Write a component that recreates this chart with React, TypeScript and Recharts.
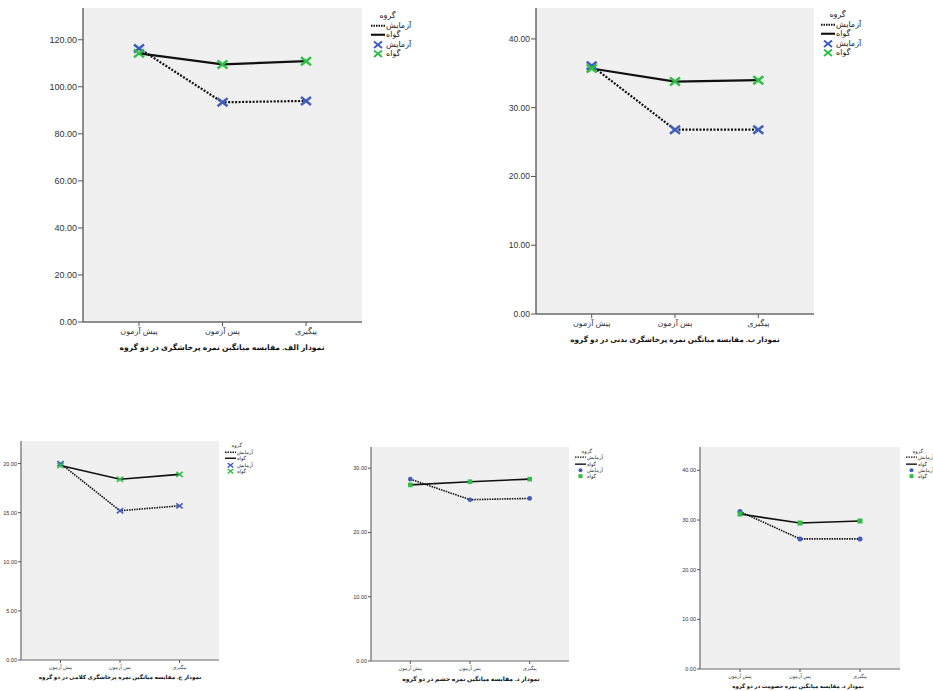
import React from 'react';
import { LineChart, Line, XAxis, YAxis, CartesianGrid } from 'recharts';

const stages = ['پیش آزمون', 'پس آزمون', 'پیگیری'];
const groupTitle = 'گروه';
const groupNames = ['آزمایش', 'گواه'];

// نمودار الف - پرخاشگری کل
const aggExp = [116.3, 93.4, 94.0];
const aggCtl = [114.2, 109.5, 110.9];
const aggTicks = [0, 20, 40, 60, 80, 100, 120];

// نمودار ب - پرخاشگری بدنی
const physExp = [36.1, 26.8, 26.8];
const physCtl = [35.7, 33.8, 34.0];
const physTicks = [0, 10, 20, 30, 40];

// نمودار ج - پرخاشگری کلامی
const verbExp = [20.0, 15.2, 15.7];
const verbCtl = [19.8, 18.4, 18.9];
const verbTicks = [0, 5, 10, 15, 20];

// نمودار د - خشم
const angerExp = [28.3, 25.1, 25.3];
const angerCtl = [27.4, 27.9, 28.3];
const angerTicks = [0, 10, 20, 30];

// نمودار ه - خصومت
const hostExp = [31.7, 26.2, 26.2];
const hostCtl = [31.2, 29.4, 29.8];
const hostTicks = [0, 10, 20, 30, 40];

const BLUE = '#3f5dbf';
const GREEN = '#2fbf45';
const FONT = '"Liberation Sans", "DejaVu Sans", Arial, sans-serif';

const makeData = (exp: number[], ctl: number[]) =>
  stages.map((stage, i) => ({ stage, exp: exp[i], ctl: ctl[i] }));

function Marker({ cx, cy, kind, color, size }: any) {
  if (kind === 'x') {
    const sx = size;
    const sy = size * 0.8;
    return (
      <g>
        <line x1={cx - sx} y1={cy - sy} x2={cx + sx} y2={cy + sy} stroke={color} strokeWidth={size * 0.5} />
        <line x1={cx - sx} y1={cy + sy} x2={cx + sx} y2={cy - sy} stroke={color} strokeWidth={size * 0.5} />
      </g>
    );
  }
  if (kind === 'circle') return <circle cx={cx} cy={cy} r={size} fill={color} />;
  return <rect x={cx - size} y={cy - size} width={size * 2} height={size * 2} fill={color} />;
}

function LegendBox({ x, y, font, row, sym, markerKind, markerSize }: any) {
  const items = [
    { name: groupNames[0], type: 'dotted' },
    { name: groupNames[1], type: 'solid' },
    { name: groupNames[0], type: 'm', color: BLUE, kind: markerKind === 'x' ? 'x' : 'circle' },
    { name: groupNames[1], type: 'm', color: GREEN, kind: markerKind === 'x' ? 'x' : 'square' }
  ];
  return (
    <div style={{ position: 'absolute', left: x, top: y, fontFamily: FONT, fontSize: font, color: '#222', lineHeight: `${row}px` }}>
      <div style={{ paddingLeft: sym * 0.6 }}>{groupTitle}</div>
      {items.map((it, i) => (
        <div key={i} style={{ display: 'flex', alignItems: 'center', height: row }}>
          <svg width={sym} height={row} style={{ marginRight: 1 }}>
            {it.type === 'dotted' && (
              <line x1={0} y1={row / 2} x2={sym} y2={row / 2} stroke="#111" strokeWidth={row / 5} strokeDasharray="1.5 1" />
            )}
            {it.type === 'solid' && <line x1={0} y1={row / 2} x2={sym} y2={row / 2} stroke="#111" strokeWidth={row / 4.5} />}
            {it.type === 'm' && <Marker cx={sym / 2} cy={row / 2} kind={it.kind} color={it.color} size={markerSize} />}
          </svg>
          <span style={{ color: '#222' }}>{it.name}</span>
        </div>
      ))}
    </div>
  );
}

function Panel(p: any) {
  const data = makeData(p.exp, p.ctl);
  const w = p.x1 - p.x0 + 70;
  const h = p.y1 - p.y0 + 40;
  const frame = { stroke: '#6a6a6a', strokeWidth: p.frameWidth };
  const kindExp = p.marker === 'x' ? 'x' : 'circle';
  const kindCtl = p.marker === 'x' ? 'x' : 'square';
  const dotFor = (kind: string, color: string) => (props: any) =>
    <Marker key={`${kind}-${props.index}`} cx={props.cx} cy={props.cy} kind={kind} color={color} size={p.markerSize} />;
  return (
    <>
      <div style={{ position: 'absolute', left: p.x0 - 60, top: p.y0 - 10 }}>
        <LineChart width={w} height={h} data={data} margin={{ top: 10, right: 10, bottom: 0, left: 0 }}>
          <CartesianGrid fill="#f0f0f0" horizontal={false} vertical={false} />
          <XAxis
            dataKey="stage"
            height={30}
            padding={{ left: p.pad, right: p.pad }}
            axisLine={frame}
            tickLine={{ stroke: '#555' }}
            tickSize={p.catTick}
            tickMargin={2}
            interval={0}
            tick={{ fontSize: p.catFont, fill: '#333', fontFamily: FONT }}
          />
          <XAxis xAxisId="top" orientation="top" dataKey="stage" height={0} tick={false} tickLine={false} axisLine={frame} />
          <YAxis
            width={60}
            domain={[0, p.yMax]}
            ticks={p.ticks}
            allowDataOverflow
            axisLine={frame}
            tickLine={{ stroke: '#555' }}
            tickSize={p.yTick}
            tickMargin={1}
            tickFormatter={(v: number) => v.toFixed(2)}
            tick={{ fontSize: p.tickFont, fill: '#333', fontFamily: FONT }}
          />
          <YAxis yAxisId="right" orientation="right" width={0} domain={[0, p.yMax]} tick={false} tickLine={false} axisLine={frame} />
          <Line
            dataKey="exp"
            stroke="#111"
            strokeWidth={p.lineWidth}
            strokeDasharray={p.dash}
            isAnimationActive={false}
            dot={dotFor(kindExp, BLUE)}
            activeDot={false}
          />
          <Line
            dataKey="ctl"
            stroke="#111"
            strokeWidth={p.lineWidth}
            isAnimationActive={false}
            dot={dotFor(kindCtl, GREEN)}
            activeDot={false}
          />
        </LineChart>
      </div>
      <div
        style={{
          position: 'absolute',
          left: p.titleX - 200,
          top: p.titleY - p.titleFont * 0.7,
          width: 400,
          textAlign: 'center',
          fontFamily: FONT,
          fontSize: p.titleFont,
          fontWeight: 'bold',
          color: '#111',
          direction: 'rtl',
          whiteSpace: 'nowrap'
        }}
      >
        {p.title}
      </div>
      <LegendBox x={p.legendX} y={p.legendY} font={p.legendFont} row={p.legendRow} sym={p.legendSym} markerKind={p.marker} markerSize={p.legendMarker} />
    </>
  );
}

export default function App() {
  return (
    <div style={{ position: 'relative', width: 933, height: 691, overflow: 'hidden', background: '#fff' }}>
      <style>{'body{margin:0}'}</style>
      <Panel
        x0={83} x1={362} y0={8} y1={322} yMax={133.5} ticks={aggTicks} exp={aggExp} ctl={aggCtl}
        pad={56} marker="x" markerSize={5} lineWidth={2.2} dash="2 1.5" frameWidth={1.5}
        tickFont={9} catFont={8} yTick={5} catTick={4}
        title="نمودار الف. مقایسه میانگین نمره پرخاشگری در دو گروه" titleX={222} titleY={348} titleFont={7.6}
        legendX={371} legendY={11} legendFont={8} legendRow={9.5} legendSym={14} legendMarker={4}
      />
      <Panel
        x0={536} x1={814} y0={8} y1={314} yMax={44.5} ticks={physTicks} exp={physExp} ctl={physCtl}
        pad={55.7} marker="x" markerSize={5} lineWidth={2.2} dash="2 1.5" frameWidth={1.5}
        tickFont={8.5} catFont={8} yTick={5} catTick={4}
        title="نمودار ب. مقایسه میانگین نمره پرخاشگری بدنی در دو گروه" titleX={675} titleY={340} titleFont={7.3}
        legendX={821} legendY={10} legendFont={8} legendRow={9.5} legendSym={14} legendMarker={4}
      />
      <Panel
        x0={21} x1={219} y0={441} y1={660} yMax={22.3} ticks={verbTicks} exp={verbExp} ctl={verbCtl}
        pad={39.5} marker="x" markerSize={3.2} lineWidth={1.6} dash="1.5 1" frameWidth={1.2}
        tickFont={5.5} catFont={5} yTick={3} catTick={3}
        title="نمودار ج. مقایسه میانگین نمره پرخاشگری کلامی در دو گروه" titleX={120} titleY={678} titleFont={5.6}
        legendX={225} legendY={442} legendFont={5} legendRow={6.5} legendSym={11} legendMarker={2.8}
      />
      <Panel
        x0={371} x1={569} y0={447} y1={661} yMax={33.3} ticks={angerTicks} exp={angerExp} ctl={angerCtl}
        pad={39.3} marker="dot" markerSize={2.3} lineWidth={1.6} dash="1.5 1" frameWidth={1.2}
        tickFont={5.5} catFont={5} yTick={3} catTick={3}
        title="نمودار د. مقایسه میانگین نمره خشم در دو گروه" titleX={471} titleY={679} titleFont={6}
        legendX={575} legendY={448} legendFont={5} legendRow={6.3} legendSym={11} legendMarker={2}
      />
      <Panel
        x0={700} x1={900} y0={447} y1={669} yMax={44.7} ticks={hostTicks} exp={hostExp} ctl={hostCtl}
        pad={40} marker="dot" markerSize={2.5} lineWidth={1.6} dash="1.5 1" frameWidth={1.2}
        tickFont={5.5} catFont={5} yTick={3} catTick={3}
        title="نمودار د. مقایسه میانگین نمره خصومت در دو گروه" titleX={798} titleY={687} titleFont={5.4}
        legendX={906} legendY={448} legendFont={5} legendRow={6.3} legendSym={11} legendMarker={2}
      />
    </div>
  );
}
